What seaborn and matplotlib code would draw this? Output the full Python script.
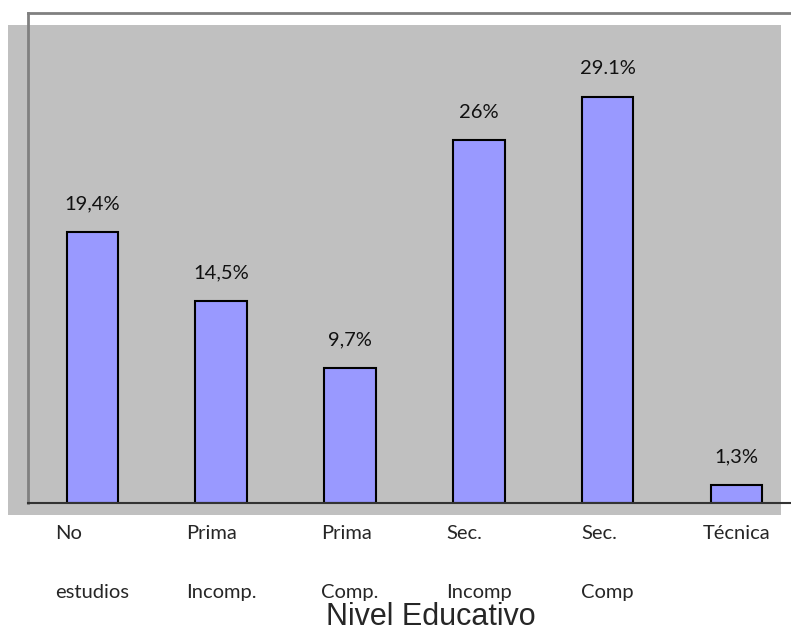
import matplotlib
matplotlib.use("Agg")
import matplotlib.pyplot as plt
import seaborn as sns
import pandas as pd
from matplotlib.patches import Rectangle

categories = ["No\nestudios", "Prima\nIncomp.", "Prima\nComp.", "Sec.\nIncomp", "Sec.\nComp", "Técnica"]
values = [19.4, 14.5, 9.7, 26.0, 29.1, 1.3]
value_labels = ["19,4%", "14,5%", "9,7%", "26%", "29.1%", "1,3%"]
x_title = "Nivel Educativo"

sns.set_style("white")
plt.rcParams["font.family"] = ["Lato", "DejaVu Sans"]

W, H = 791, 632
fig = plt.figure(figsize=(W / 100, H / 100), dpi=100)
fig.patch.set_facecolor("white")

# gray chart area behind the axes
bg = Rectangle((8 / W, 1 - 515 / H), (781 - 8) / W, (515 - 25) / H,
               transform=fig.transFigure, facecolor="#C0C0C0", edgecolor="none", zorder=-1)
fig.patches.append(bg)

ax = fig.add_axes([28 / W, 1 - 503 / H, 1 - 28 / W, (503 - 13) / H])
ax.set_facecolor("none")

df = pd.DataFrame({"cat": categories, "val": values})
sns.barplot(data=df, x="cat", y="val", color="#9999FF", edgecolor="black",
            linewidth=1.5, width=0.4, saturation=1, ax=ax)

ax.bar_label(ax.containers[0], labels=value_labels, padding=14, fontsize=14.5, color="#111111")

ax.set_ylim(0, 35.1)
ax.set_xlim(-0.5, (W - 28) / 128.8 - 0.5)
ax.set_yticks([])
ax.set_ylabel("")

ax.set_xticks(range(len(categories)))
ax.set_xticklabels(categories, fontsize=14.5, linespacing=4.0, multialignment="left")
ax.tick_params(axis="x", which="major", length=0, pad=16)
ax.set_xticks([i - 0.5 for i in range(len(categories))], minor=True)
ax.tick_params(axis="x", which="minor", length=5, width=1, color="#555555", direction="out")

for s in ["top", "left"]:
    ax.spines[s].set_color("#808080")
    ax.spines[s].set_linewidth(2)
ax.spines["right"].set_visible(False)
ax.spines["bottom"].set_color("#333333")
ax.spines["bottom"].set_linewidth(1.5)

ax.set_xlabel(x_title, fontsize=22, family=["Liberation Sans", "DejaVu Sans"])
ax.xaxis.set_label_coords((431 - 28) / (W - 28), -0.202)

fig.savefig("out.png", dpi=100)
